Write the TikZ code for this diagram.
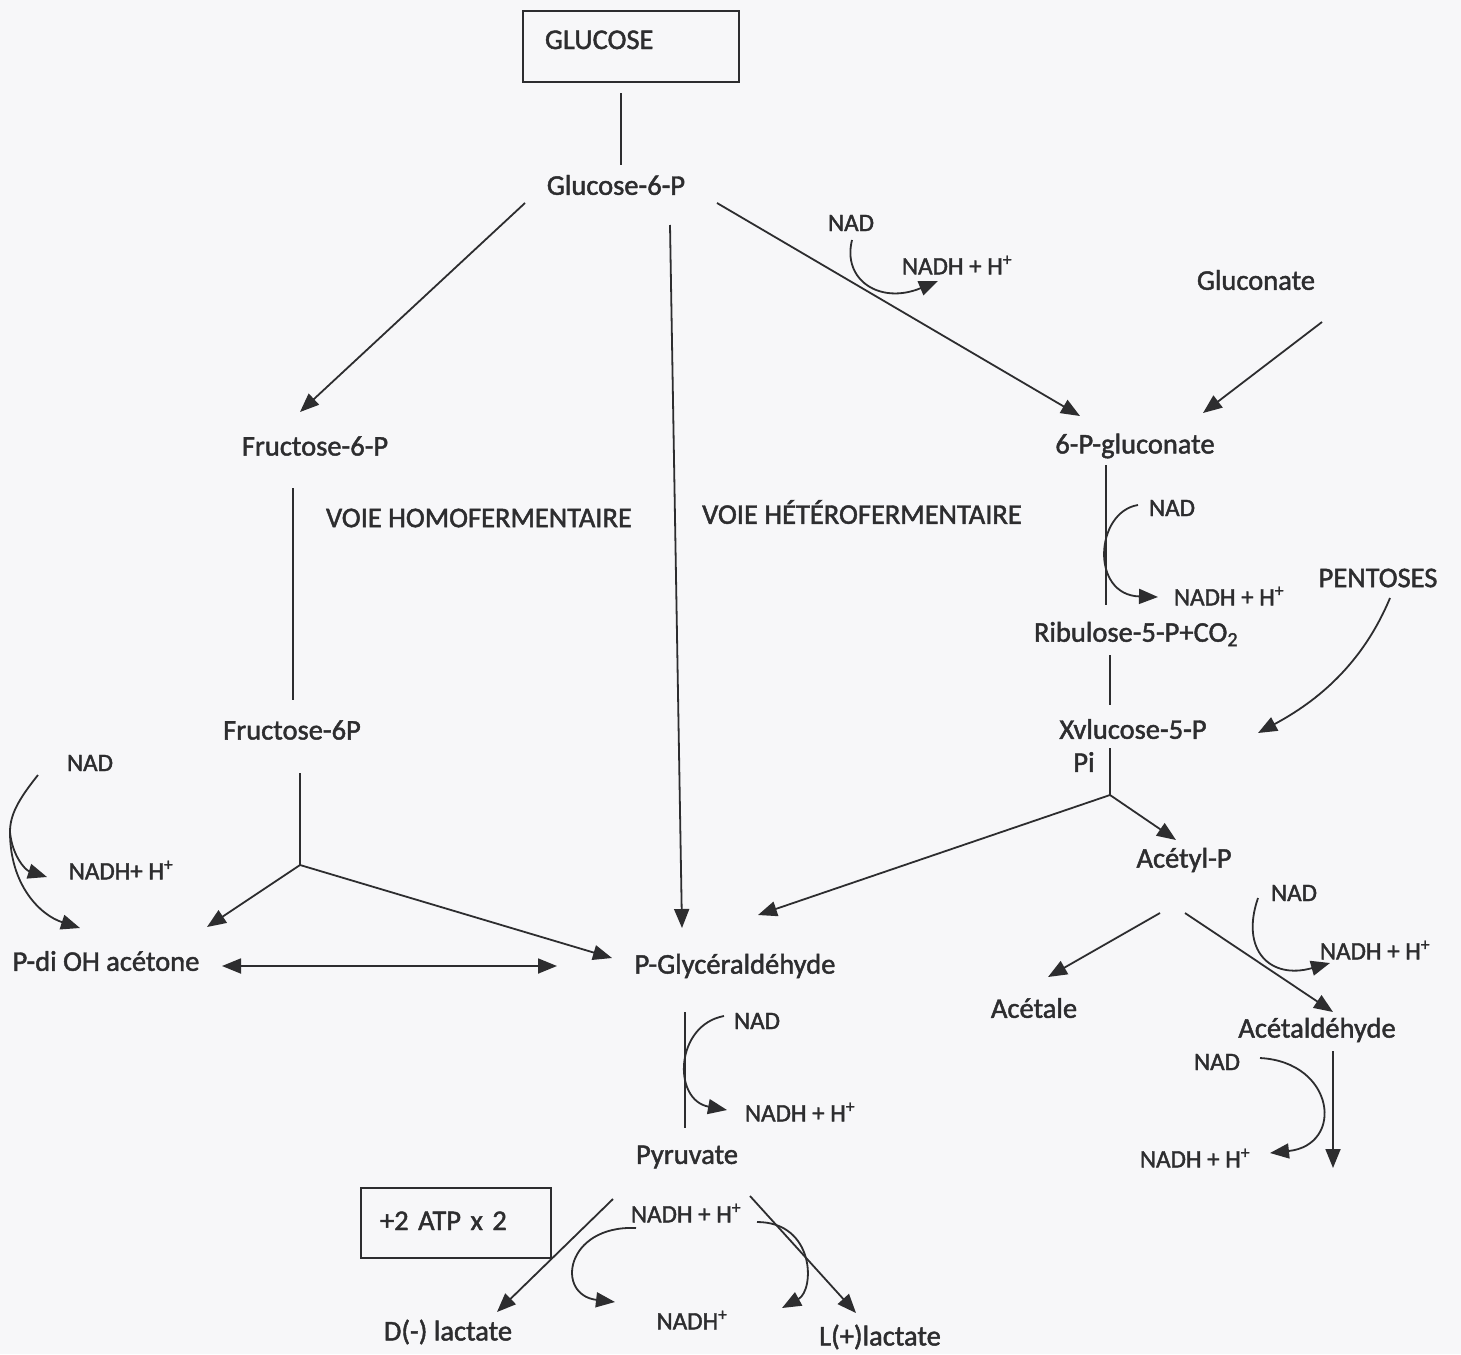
\documentclass[tikz,border=0pt]{standalone}
\usepackage{fontspec}
\setmainfont{Carlito}[FakeBold=1.6]
\usetikzlibrary{arrows.meta,calc}
\definecolor{ink}{RGB}{45,45,47}
\definecolor{paper}{RGB}{247,247,249}
\begin{document}
\begin{tikzpicture}[x=1pt,y=-1pt,
  lbl/.style={inner sep=0pt, text=ink, font=\fontsize{28.5}{34}\selectfont},
  sm/.style={inner sep=0pt, text=ink, font=\fontsize{25}{30}\selectfont},
  boxed/.style={draw=ink, line width=1.8pt, text=ink, font=\fontsize{28.5}{34}\selectfont, align=left},
  ln/.style={draw=ink, line width=1.8pt},
  tip/.tip={Triangle[length=19pt,width=15pt]},
  arr/.style={ln, -tip},
  darr/.style={ln, tip-tip}]
\fill[paper] (0,0) rectangle (1461,1354);
\useasboundingbox (0,0) rectangle (1461,1354);

% boxes
\node[boxed, minimum width=216pt, minimum height=71pt, text width=172pt, inner xsep=22pt, inner ysep=0pt, text height=20pt, text depth=15pt] (glucose) at (631,46.5) {GLUCOSE};
\node[boxed, minimum width=190pt, minimum height=70pt, text width=152pt, inner xsep=19pt, inner ysep=0pt, text height=20pt, text depth=6pt] (atp) at (456,1223) {+2 ATP x 2};

% main labels
\node[lbl] (glu6p) at (616,185) {Glucose-6-P};
\node[lbl] (fru6p) at (315,446) {Fructose-6-P};
\node[lbl] (voiehomo) at (479,518) {VOIE HOMOFERMENTAIRE};
\node[lbl] (voiehetero) at (862,512) {VOIE HÉTÉROFERMENTAIRE};
\node[lbl] (fru6pb) at (292,730) {Fructose-6P};
\node[lbl] (pdioh) at (106,961) {P-di OH acétone};
\node[lbl] (pgly) at (735,966) {P-Glycéraldéhyde};
\node[lbl] (pyr) at (687,1157) {Pyruvate};
\node[lbl] (dlac) at (448,1332) {D(-) lactate};
\node[lbl] (llac) at (880,1337) {L(+)lactate};
\node[lbl] (gluconate) at (1256,280) {Gluconate};
\node[lbl] (pglu) at (1135,446) {6-P-gluconate};
\node[lbl] (rib) at (1136,634) {Ribulose-5-P+CO\textsubscript{2}};
\node[lbl] (pentoses) at (1378,578) {PENTOSES};
\node[lbl] (xyl) at (1133,729) {Xvlucose-5-P};
\node[lbl] (pi) at (1084,762) {Pi};
\node[lbl] (acetylp) at (1184,860) {Acétyl-P};
\node[lbl] (acetale) at (1034,1008) {Acétale};
\node[lbl] (acetald) at (1317,1030) {Acétaldéhyde};

% small labels
\node[sm] (nad1) at (851,223) {NAD};
\node[sm] (nadh1) at (957,265) {NADH + H\textsuperscript{+}};
\node[sm] (nad2) at (1172,508) {NAD};
\node[sm] (nadh2) at (1229,596) {NADH + H\textsuperscript{+}};
\node[sm] (nad3) at (90,763) {NAD};
\node[sm] (nadh3) at (121,870) {NADH+ H\textsuperscript{+}};
\node[sm] (nad4) at (757,1021) {NAD};
\node[sm] (nadh4) at (800,1112) {NADH + H\textsuperscript{+}};
\node[sm] (nad5) at (1294,893) {NAD};
\node[sm] (nadh5) at (1375,950) {NADH + H\textsuperscript{+}};
\node[sm] (nad6) at (1217,1062) {NAD};
\node[sm] (nadh6) at (1195,1158) {NADH + H\textsuperscript{+}};
\node[sm] (nadhpy) at (686,1213) {NADH + H\textsuperscript{+}};
\node[sm] (nadhplus) at (692,1320) {NADH\textsuperscript{+}};

% junctions / free ends
\coordinate (j1) at (300,865);
\coordinate (j2) at (1110,795);
\coordinate (j3) at (10,832);
\coordinate (acend) at (1333,1168);

% connectors
\draw[ln] ($(glucose)+(-10,46.5)$) -- ($(glu6p)+(5,-20)$);
\draw[arr] ($(glu6p)+(-91,18)$) -- ($(fru6p)+(-15,-34)$);
\draw[arr] ($(glu6p)+(54,40)$) -- ($(pgly)+(-53,-38)$);
\draw[arr] ($(glu6p)+(101,18)$) -- ($(pglu)+(-55,-30)$);
\draw[arr] ($(nad1)+(1,17)$) .. controls (842,280) and (880,305) .. ($(nadh1)+(-19,16)$);
\draw[arr] ($(gluconate)+(66,42)$) -- ($(pglu)+(68,-33)$);
\draw[ln] ($(pglu)+(-29,19)$) -- ($(rib)+(-30,-29)$);
\draw[arr] ($(nad2)+(-34,-3)$) .. controls (1095,512) and (1090,595) .. ($(nadh2)+(-71,1)$);
\draw[ln] ($(rib)+(-26,21)$) -- ($(xyl)+(-23,-24)$);
\draw[ln] ($(xyl)+(-23,19)$) -- (j2);
\draw[arr] (j2) -- ($(acetylp)+(-8,-20)$);
\draw[arr] (j2) -- ($(pgly)+(23,-51)$);
\draw[arr] ($(pentoses)+(12,20)$) .. controls (1360,670) and (1310,705) .. ($(xyl)+(125,4)$);
\draw[arr] ($(acetylp)+(-24,53)$) -- ($(acetale)+(14,-31)$);
\draw[arr] ($(acetylp)+(1,53)$) -- ($(acetald)+(16,-18)$);
\draw[arr] ($(nad5)+(-36,5)$) .. controls (1240,950) and (1270,980) .. ($(nadh5)+(-45,13)$);
\draw[arr] ($(acetald)+(16,21)$) -- (acend);
\draw[arr] ($(nad6)+(43,-4)$) .. controls (1335,1062) and (1345,1145) .. ($(nadh6)+(75,-5)$);
\draw[ln] ($(fru6p)+(-22,42)$) -- ($(fru6pb)+(1,-30)$);
\draw[ln] ($(fru6pb)+(8,43)$) -- (j1);
\draw[arr] (j1) -- ($(pdioh)+(101,-34)$);
\draw[arr] (j1) -- ($(pgly)+(-123,-8)$);
\draw[darr] ($(pdioh)+(116,5)$) -- ($(pgly)+(-178,0)$);
\draw[ln] ($(nad3)+(-52,12)$) .. controls (18,800) and (10,815) .. (j3);
\draw[arr] (j3) .. controls (12,855) and (25,870) .. ($(nadh3)+(-74,7)$);
\draw[arr] (j3) .. controls (10,885) and (40,915) .. ($(pdioh)+(-26,-33)$);
\draw[ln] ($(pgly)+(-50,46)$) -- ($(pyr)+(-2,-29)$);
\draw[arr] ($(nad4)+(-33,-5)$) .. controls (675,1025) and (672,1100) .. ($(nadh4)+(-73,-2)$);
\draw[arr] ($(pyr)+(-74,42)$) -- ($(dlac)+(49,-20)$);
\draw[arr] ($(pyr)+(63,39)$) -- ($(llac)+(-24,-24)$);
\draw[arr] ($(nadhpy)+(-50,15)$) .. controls (565,1225) and (555,1295) .. ($(nadhplus)+(-77,-18)$);
\draw[arr] ($(nadhpy)+(71,9)$) .. controls (815,1222) and (815,1290) .. ($(nadhplus)+(90,-12)$);
\end{tikzpicture}
\end{document}
